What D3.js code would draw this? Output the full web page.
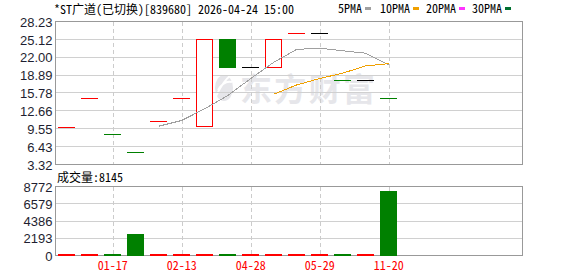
<!DOCTYPE html>
<html>
<head>
<meta charset="utf-8" />
<title>*ST广道</title>
<script src="https://d3js.org/d3.v7.min.js"></script>
<style>
body{margin:0;background:#fff;}
.mono{font-family:"Noto Sans Mono CJK SC","Liberation Mono","Noto Sans CJK SC",monospace;font-size:12px;}
.axis text{font-family:"Liberation Sans",Arial,sans-serif;font-size:13px;fill:#1e1e30;}
</style>
</head>
<body>
<svg id="chart"></svg>
<script>
var title = "*ST广道(已切换)[839680] 2026-04-24 15:00";

// daily candles (only 15 days traded)
var openP  = [9.92,14.93,8.71,5.42,10.95,14.93,10.02,25.12,20.22,20.30,26.16,26.16,18.04,18.04,14.93];
var closeP = [9.92,14.93,8.71,5.42,10.95,14.93,25.12,20.22,20.22,25.12,26.16,26.16,18.04,18.04,14.93];
var highP  = [9.92,14.93,8.71,5.42,10.95,14.93,25.12,25.12,20.22,25.12,26.16,26.16,18.04,18.04,14.93];
var lowP   = [9.92,14.93,8.71,5.42,10.95,14.93,10.02,20.22,20.22,20.30,26.16,26.16,18.04,18.04,14.93];
var volume = [150,150,190,2720,150,150,150,140,150,150,150,150,140,150,8145];

var ma5  = [null,null,null,null,9.99,10.99,13.03,15.33,18.29,21.12,23.37,23.58,23.14,22.70,20.67];
var ma10 = [null,null,null,null,null,null,null,null,null,15.55,17.18,18.30,19.23,20.50,20.89];

var priceTicks = [28.23,25.12,22.00,18.89,15.78,12.66,9.55,6.43,3.32];
var volTicks = [0,2193,4386,6579,8772];
var dateTickIdx = [2,5,8,11,14];
var dateTickLabels = ["01-17","02-13","04-28","05-29","11-20"];

var legendNames = ["5PMA","10PMA","20PMA","30PMA"];
var legendColors = ["#a0a0a0","#f0a000","#ff33ff","#007030"];

var width = 578, height = 276;
var left = 55.5, right = 522.5;
var pTop = 21.5, pBottom = 164.5;
var vTop = 186.5, vBottom = 255.5;
var slots = 20;

var svg = d3.select("#chart")
  .attr("width", width)
  .attr("height", height);

var x = d3.scaleBand()
  .domain(d3.range(slots))
  .range([55.2, 55.2 + 23 * slots])
  .paddingInner(0.27)
  .paddingOuter(0.135);
var bw = x.bandwidth();
function cx(i){ return Math.round(x(i) + bw / 2) + 0.5; }

var y = d3.scaleLinear().domain([3.32, 28.23]).range([pBottom, pTop]);
var vy = d3.scaleLinear().domain([0, 8772]).range([vBottom, vTop]);

// watermark (under the grid)
var wm = svg.append("g").attr("fill", "#e6e6ea");
wm.append("ellipse").attr("cx", 224).attr("cy", 88).attr("rx", 9).attr("ry", 13);
wm.append("path")
  .attr("d", "M216,96 Q224,80 230,76 M218,90 Q224,80 232,82")
  .attr("stroke", "#fff").attr("stroke-width", 2).attr("fill", "none");
wm.append("text")
  .attr("x", 240).attr("y", 101)
  .attr("font-family", "Noto Sans CJK SC")
  .attr("font-weight", "bold")
  .attr("font-size", 32)
  .attr("textLength", 135).attr("lengthAdjust","spacing")
  .text("东方财富");

// title + legend
svg.append("text").attr("class","mono")
  .attr("x", 54).attr("y", 14)
  .attr("textLength", 240).attr("lengthAdjust","spacing")
  .attr("fill","#000")
  .text(title);

var legX = [338, 380, 426, 472];
var leg = svg.append("g");
legendNames.forEach(function(n, i){
  leg.append("text").attr("class","mono")
    .attr("x", legX[i]).attr("y", 13)
    .attr("textLength", n.length * 6).attr("lengthAdjust","spacing")
    .text(n);
  leg.append("rect")
    .attr("x", legX[i] + n.length * 6 + 3).attr("y", 7)
    .attr("width", 6).attr("height", 3)
    .attr("fill", legendColors[i]);
});

// grids
function hGrid(scale, ticks){
  svg.append("g").selectAll("line")
    .data(ticks)
    .join("line")
    .attr("x1", left).attr("x2", right)
    .attr("y1", function(d){ return Math.round(scale(d) - 0.5) + 0.5; })
    .attr("y2", function(d){ return Math.round(scale(d) - 0.5) + 0.5; })
    .attr("stroke", "#d0d0d0")
    .attr("shape-rendering","crispEdges");
}
hGrid(y, priceTicks);
hGrid(vy, volTicks);

[[pTop, pBottom],[vTop, vBottom]].forEach(function(r){
  svg.append("g").selectAll("line")
    .data(dateTickIdx)
    .join("line")
    .attr("x1", cx).attr("x2", cx)
    .attr("y1", r[0]).attr("y2", r[1])
    .attr("stroke", "#cccccc")
    .attr("stroke-dasharray", "4,3")
    .attr("shape-rendering","crispEdges");
});

// panel borders
function frame(t, b){
  svg.append("rect")
    .attr("x", left).attr("y", t)
    .attr("width", right - left).attr("height", b - t)
    .attr("fill", "none").attr("stroke", "#999")
    .attr("shape-rendering","crispEdges");
}
frame(pTop, pBottom);
frame(vTop, vBottom);

// axes
var yAxis = d3.axisLeft(y).tickValues(priceTicks)
  .tickFormat(function(d){ return d.toFixed(2); })
  .tickSize(0).tickPadding(3);
svg.append("g").attr("class","axis")
  .attr("transform","translate(" + left + ",0)")
  .call(yAxis)
  .call(function(g){ g.select(".domain").remove(); })
  .selectAll("text").attr("dy","0.36em");

var vAxis = d3.axisLeft(vy).tickValues(volTicks)
  .tickFormat(d3.format("d"))
  .tickSize(0).tickPadding(3);
svg.append("g").attr("class","axis")
  .attr("transform","translate(" + left + ",0)")
  .call(vAxis)
  .call(function(g){ g.select(".domain").remove(); })
  .selectAll("text").attr("dy","0.36em");

var xAxis = d3.axisBottom(x).tickValues(dateTickIdx)
  .tickFormat(function(d){ return dateTickLabels[dateTickIdx.indexOf(d)]; })
  .tickSize(0).tickPadding(0);
var xg = svg.append("g")
  .attr("transform","translate(0," + vBottom + ")")
  .call(xAxis);
xg.select(".domain").remove();
xg.selectAll("text")
  .attr("class","mono")
  .attr("fill","#ff0000")
  .attr("y", 14).attr("dy", 0)
  .attr("textLength", 30).attr("lengthAdjust","spacing");

// volume label
svg.append("text").attr("class","mono")
  .attr("x", 57).attr("y", 182)
  .attr("textLength", 66).attr("lengthAdjust","spacing")
  .text("成交量:" + volume[volume.length - 1]);

// candles
var days = d3.range(openP.length);
function dirOf(i){
  if (closeP[i] > openP[i]) return 1;
  if (closeP[i] < openP[i]) return -1;
  if (i === 0 || closeP[i] > closeP[i-1]) return 1;
  if (closeP[i] < closeP[i-1]) return -1;
  return 0;
}
var candleColor = {"1":"#ff0000","-1":"#008000","0":"#000000"};

var cg = svg.append("g").attr("shape-rendering","crispEdges");
days.forEach(function(i){
  var d = dirOf(i);
  var x0 = Math.round(x(i));
  var col = candleColor[d];
  if (highP[i] > Math.max(openP[i], closeP[i]) || lowP[i] < Math.min(openP[i], closeP[i])) {
    cg.append("line").attr("x1", cx(i)).attr("x2", cx(i))
      .attr("y1", y(highP[i])).attr("y2", y(lowP[i])).attr("stroke", col);
  }
  if (openP[i] === closeP[i]) {
    var yy = Math.round(y(closeP[i])) + 0.5;
    cg.append("line").attr("x1", x0).attr("x2", x0 + 17)
      .attr("y1", yy).attr("y2", yy).attr("stroke", col);
  } else if (closeP[i] > openP[i]) {
    cg.append("rect")
      .attr("x", x0 + 0.5).attr("y", Math.round(y(closeP[i])) + 0.5)
      .attr("width", 16)
      .attr("height", Math.round(y(openP[i])) - Math.round(y(closeP[i])))
      .attr("fill", "#fff").attr("stroke", col);
  } else {
    cg.append("rect")
      .attr("x", x0).attr("y", Math.round(y(openP[i])))
      .attr("width", 17)
      .attr("height", Math.round(y(closeP[i])) - Math.round(y(openP[i])) + 1)
      .attr("fill", col);
  }
});

// moving averages
var line = d3.line()
  .defined(function(d){ return d.v != null; })
  .x(function(d){ return x(d.i) + bw / 2; })
  .y(function(d){ return y(d.v); });
[[ma5, legendColors[0]], [ma10, legendColors[1]]].forEach(function(m){
  svg.append("path")
    .datum(days.map(function(i){ return {i: i, v: m[0][i]}; }))
    .attr("d", line)
    .attr("fill", "none")
    .attr("stroke", m[1])
    .attr("stroke-width", 1)
    .attr("shape-rendering","crispEdges");
});

// volume bars
svg.append("g").attr("shape-rendering","crispEdges")
  .selectAll("rect")
  .data(days)
  .join("rect")
  .attr("x", function(i){ return Math.round(x(i)); })
  .attr("width", 17)
  .attr("y", function(i){ return Math.min(vy(volume[i]), vBottom - 2); })
  .attr("height", function(i){ return Math.max(vBottom - vy(volume[i]), 2); })
  .attr("fill", function(i){ return dirOf(i) < 0 ? "#008000" : "#ff0000"; });
</script>
</body>
</html>
